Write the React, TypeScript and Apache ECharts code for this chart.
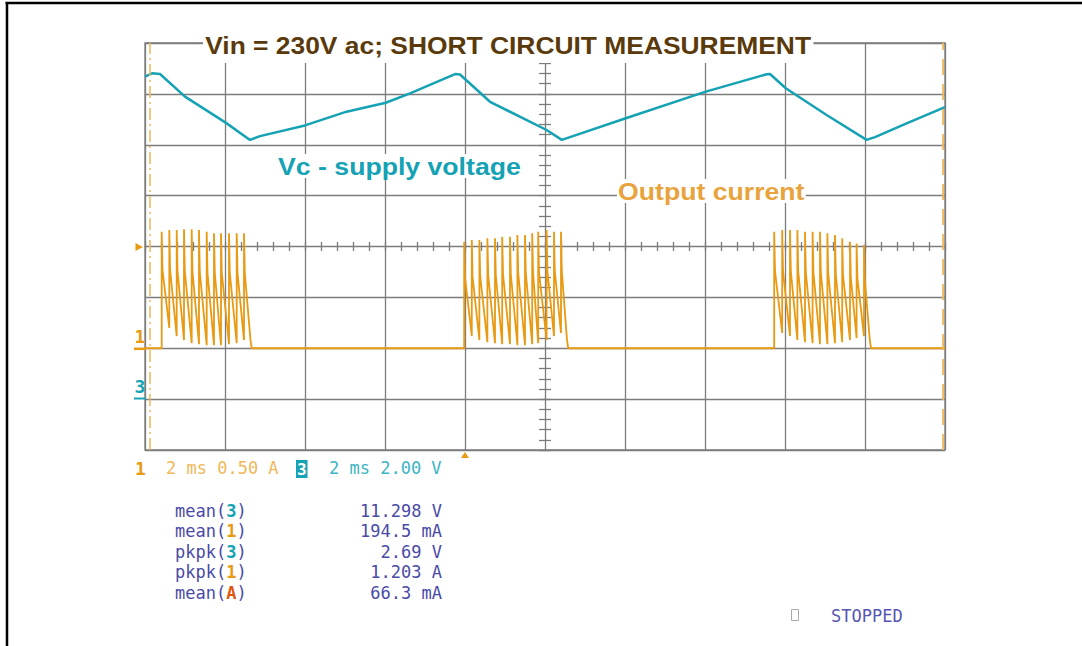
import React, { useEffect, useRef } from "react";
import * as echarts from "echarts";

// ---------- DATA ----------
// time axis: 2 ms / div, 10 divisions
const timeMin = 0;
const timeMax = 20;

// Vc - supply voltage (channel 3), volts vs ms
const vcTimes = [0, 0.175, 0.375, 1.0, 2.025, 2.625, 2.875, 4.0, 5.04, 6.02, 6.625, 7.75, 7.875, 8.625, 10.04, 10.42, 10.625, 12.02, 14.02, 15.54, 15.625, 16.02, 17.04, 18.04, 18.25, 19.04, 20];
const vcVolts = [12.68, 12.81, 12.78, 11.89, 10.86, 10.19, 10.34, 10.76, 11.3, 11.65, 12.02, 12.78, 12.76, 11.69, 10.58, 10.19, 10.3, 11.04, 12.09, 12.77, 12.78, 12.22, 11.17, 10.19, 10.3, 10.84, 11.48];

// Output current (channel 1), amps vs ms: pulse bursts
const burst1Times = [0.4175, 0.6075, 0.7925, 0.975, 1.1675, 1.35, 1.5425, 1.725, 1.9, 2.1, 2.2925, 2.475];
const burst1Peaks = [1.145, 1.162, 1.162, 1.169, 1.169, 1.162, 1.145, 1.13, 1.13, 1.13, 1.13, 1.13];
const burst1Mids = [0.77, 0.77, 0.76, 0.76, 0.75, 0.75, 0.74, 0.74, 0.74, 0.74, 0.74, 0.74];
const burst1Lows = [0.2, 0.12, 0.08, 0.05, 0.04, 0.03, 0.03, 0.03, 0.04, 0.05, 0.08];
const burst1End = 2.6675;

const burst2Times = [7.98, 8.17, 8.36, 8.56, 8.75, 8.93, 9.125, 9.31, 9.5, 9.68, 9.83, 10.04, 10.225, 10.4];
const burst2Peaks = [1.047, 1.064, 1.064, 1.08, 1.08, 1.096, 1.096, 1.113, 1.113, 1.13, 1.145, 1.162, 1.145, 1.145];
const burst2Mids = [0.7, 0.7, 0.71, 0.72, 0.72, 0.73, 0.73, 0.74, 0.74, 0.75, 0.75, 0.76, 0.76, 0.76];
const burst2Lows = [0.12, 0.08, 0.06, 0.05, 0.04, 0.04, 0.03, 0.03, 0.04, 0.05, 0.08, 0.12, 0.15];
const burst2End = 10.58;

const burst3Times = [15.73, 15.93, 16.125, 16.31, 16.5, 16.69, 16.875, 17.06, 17.25, 17.43, 17.625, 17.79, 17.975];
const burst3Peaks = [1.145, 1.162, 1.162, 1.162, 1.145, 1.145, 1.145, 1.13, 1.113, 1.08, 1.047, 1.03, 1.015];
const burst3Mids = [0.76, 0.76, 0.76, 0.76, 0.75, 0.75, 0.75, 0.74, 0.73, 0.72, 0.7, 0.69, 0.68];
const burst3Lows = [0.15, 0.12, 0.08, 0.06, 0.05, 0.04, 0.04, 0.05, 0.06, 0.08, 0.1, 0.12];
const burst3End = 18.15;

// cursors (ms)
const cursorTimes = [0.125, 19.94];

// readouts
const scaleText1 = "2 ms 0.50 A";
const scaleText3 = "2 ms 2.00 V";
const measNames = ["mean", "mean", "pkpk", "pkpk", "mean"];
const measChannels = ["3", "1", "3", "1", "A"];
const measValues = ["11.298 V", "194.5 mA", "2.69 V", "1.203 A", "66.3 mA"];

// ---------- STYLE ----------
const ORANGE = "#E89A12";
const ORANGE_LIGHT = "#F0B85A";
const CYAN = "#14A2B4";
const BROWN = "#5A3A0C";
const GRIDC = "#7c7c7c";
const BLUE = "#4A4AA6";
const RED = "#E0560E";
const MONO = '"DejaVu Sans Mono", monospace';
const SANS = '"Liberation Sans", Arial, sans-serif';

function buildBurst(times: number[], peaks: number[], mids: number[], lows: number[], end: number) {
  const pts: [number, number][] = [];
  pts.push([times[0], 0]);
  for (let i = 0; i < times.length; i++) {
    const t = times[i];
    pts.push([t, peaks[i]]);
    pts.push([t + 0.02, mids[i]]);
    if (i < times.length - 1) {
      pts.push([times[i + 1], lows[i]]);
    } else {
      pts.push([end - 0.03, 0.08]);
      pts.push([end, 0]);
    }
  }
  return pts;
}

function txt(x: number, y: number, text: string, fill: string, font: string, align = "left", extra: any = {}) {
  return { type: "text", z: 100, x, y, ...extra, style: { text, fill, font, align, verticalAlign: "middle", ...(extra.style || {}) } };
}

export default function App() {
  const ref = useRef<HTMLDivElement>(null);
  useEffect(() => {
    if (!ref.current) return;
    const chart = echarts.init(ref.current, undefined, { renderer: "svg" });

    const current: [number, number][] = [[timeMin, 0]];
    current.push(...buildBurst(burst1Times, burst1Peaks, burst1Mids, burst1Lows, burst1End));
    current.push(...buildBurst(burst2Times, burst2Peaks, burst2Mids, burst2Lows, burst2End));
    current.push(...buildBurst(burst3Times, burst3Peaks, burst3Mids, burst3Lows, burst3End));
    current.push([timeMax, 0]);

    const vc = vcTimes.map((t, i) => [t, vcVolts[i]]);

    const hiddenAxis = {
      axisLabel: { show: false },
      axisLine: { show: false },
      axisTick: { show: false },
      splitLine: { show: false },
    };

    const graphics: any[] = [];
    // outer frame
    graphics.push({ type: "line", z: 100, shape: { x1: 5.5, y1: 3, x2: 1082, y2: 3 }, style: { stroke: "#000", lineWidth: 2.5 } });
    graphics.push({ type: "line", z: 100, shape: { x1: 7, y1: 2, x2: 7, y2: 646 }, style: { stroke: "#000", lineWidth: 2.5 } });
    // title & labels
    graphics.push({
      type: "text", z: 100, x: 203, y: 45.5, scaleX: 1.1,
      style: { text: "Vin = 230V ac; SHORT CIRCUIT MEASUREMENT", fill: BROWN, font: `bold 24px ${SANS}`, align: "left", verticalAlign: "middle", backgroundColor: "#fff", padding: [4, 2, 7, 2] },
    });
    graphics.push({
      type: "text", z: 100, x: 277, y: 166, scaleX: 1.11,
      style: { text: "Vc - supply voltage", fill: CYAN, font: `bold 24px ${SANS}`, align: "left", verticalAlign: "middle", backgroundColor: "#fff", padding: [0, 1, 0, 1] },
    });
    graphics.push({
      type: "text", z: 100, x: 617, y: 191, scaleX: 1.11,
      style: { text: "Output current", fill: "#E8A33C", font: `bold 24px ${SANS}`, align: "left", verticalAlign: "middle", backgroundColor: "#fff", padding: [0, 1, 0, 1] },
    });
    // channel markers at left
    graphics.push({ type: "polygon", z: 100, shape: { points: [[135.5, 243], [143, 247], [135.5, 251]] }, style: { fill: ORANGE } });
    graphics.push(txt(140, 336, "1", ORANGE, `bold 18px ${MONO}`, "center"));
    graphics.push({ type: "line", z: 100, shape: { x1: 134, y1: 348.8, x2: 146, y2: 348.8 }, style: { stroke: ORANGE, lineWidth: 2.5 } });
    graphics.push(txt(140, 386, "3", CYAN, `bold 18px ${MONO}`, "center"));
    graphics.push({ type: "line", z: 100, shape: { x1: 134, y1: 398.5, x2: 146, y2: 398.5 }, style: { stroke: CYAN, lineWidth: 2 } });
    // trigger position marker below grid
    graphics.push({ type: "polygon", z: 100, shape: { points: [[461, 458], [465, 452], [469, 458]] }, style: { fill: ORANGE } });
    // scale line
    graphics.push(txt(135, 468, "1", ORANGE, `bold 18px ${MONO}`));
    graphics.push(txt(166, 468, scaleText1, ORANGE_LIGHT, `17px ${MONO}`));
    graphics.push({ type: "rect", z: 100, shape: { x: 296, y: 460, width: 11.5, height: 18 }, style: { fill: CYAN } });
    graphics.push({ ...txt(301.8, 469, "3", "#fff", `bold 16px ${MONO}`, "center"), z: 101 });
    graphics.push(txt(329, 468, scaleText3, "#3CB4C4", `17px ${MONO}`));
    // measurements
    const chanColor: Record<string, string> = { "3": CYAN, "1": ORANGE, A: RED };
    measNames.forEach((n, i) => {
      const y = 510.7 + i * 20.5;
      graphics.push({
        type: "text", z: 100, x: 175, y,
        style: {
          text: `{a|${n}(}{c|${measChannels[i]}}{a|)}`,
          align: "left",
          verticalAlign: "middle",
          rich: {
            a: { fill: BLUE, font: `17px ${MONO}` },
            c: { fill: chanColor[measChannels[i]], font: `bold 17px ${MONO}` },
          },
        },
      });
      graphics.push(txt(442, y, measValues[i], BLUE, `17px ${MONO}`, "right"));
    });
    // stopped
    graphics.push({ type: "rect", z: 100, shape: { x: 791.5, y: 609.5, width: 7, height: 11 }, style: { fill: "none", stroke: "#aaa", lineWidth: 1 } });
    graphics.push(txt(831, 616, "STOPPED", "#5656B4", `17px ${MONO}`));

    const option: any = {
      animation: false,
      backgroundColor: "#fff",
      grid: {
        left: 145, top: 43, width: 800, height: 407,
        show: true, borderColor: GRIDC, borderWidth: 1.3, backgroundColor: "transparent",
        outerBoundsMode: "none",
      },
      xAxis: [
        {
          type: "value", min: timeMin, max: timeMax, interval: 2,
          ...hiddenAxis,
          splitLine: { show: true, lineStyle: { color: GRIDC, width: 1.3 } },
        },
        {
          type: "value", min: timeMin, max: timeMax, interval: 0.4, position: "bottom", offset: -203.5,
          axisLabel: { show: false }, axisLine: { show: false }, splitLine: { show: false },
          axisTick: { show: true, inside: false, length: 4.5, lineStyle: { color: GRIDC, width: 1.3 } },
        },
        {
          type: "value", min: timeMin, max: timeMax, interval: 0.4, position: "bottom", offset: -203.5,
          axisLabel: { show: false }, axisLine: { show: false }, splitLine: { show: false },
          axisTick: { show: true, inside: true, length: 4.5, lineStyle: { color: GRIDC, width: 1.3 } },
        },
      ],
      yAxis: [
        {
          type: "value", min: -1, max: 3, interval: 0.5,
          ...hiddenAxis,
          splitLine: { show: true, lineStyle: { color: GRIDC, width: 1.3 } },
        },
        { type: "value", min: -2, max: 14, interval: 2, ...hiddenAxis },
        {
          type: "value", min: -1, max: 3, interval: 0.1, position: "left", offset: -400,
          axisLabel: { show: false }, axisLine: { show: false }, splitLine: { show: false },
          axisTick: { show: true, inside: false, length: 6, lineStyle: { color: GRIDC, width: 1.3 } },
        },
        {
          type: "value", min: -1, max: 3, interval: 0.1, position: "left", offset: -400,
          axisLabel: { show: false }, axisLine: { show: false }, splitLine: { show: false },
          axisTick: { show: true, inside: true, length: 6, lineStyle: { color: GRIDC, width: 1.3 } },
        },
      ],
      series: [
        {
          name: "Vc - supply voltage", type: "line", xAxisIndex: 0, yAxisIndex: 1,
          data: vc, showSymbol: false, symbol: "none",
          lineStyle: { color: CYAN, width: 2.5 }, z: 3,
        },
        {
          name: "Output current", type: "line", xAxisIndex: 0, yAxisIndex: 0,
          data: current, showSymbol: false, symbol: "none",
          lineStyle: { color: ORANGE, width: 1.8 }, z: 4,
          markLine: {
            silent: true, symbol: "none", label: { show: false },
            data: [
              { xAxis: cursorTimes[0], lineStyle: { color: ORANGE_LIGHT, width: 1.5, type: [12, 4, 2, 4] } },
              { xAxis: cursorTimes[1], lineStyle: { color: ORANGE_LIGHT, width: 1.8, type: [16, 9] } },
            ],
          },
        },
      ],
      graphic: graphics,
    };
    chart.setOption(option);
    return () => chart.dispose();
  }, []);

  return <div ref={ref} style={{ position: "fixed", left: 0, top: 0, width: 1082, height: 646, background: "#fff" }} />;
}
